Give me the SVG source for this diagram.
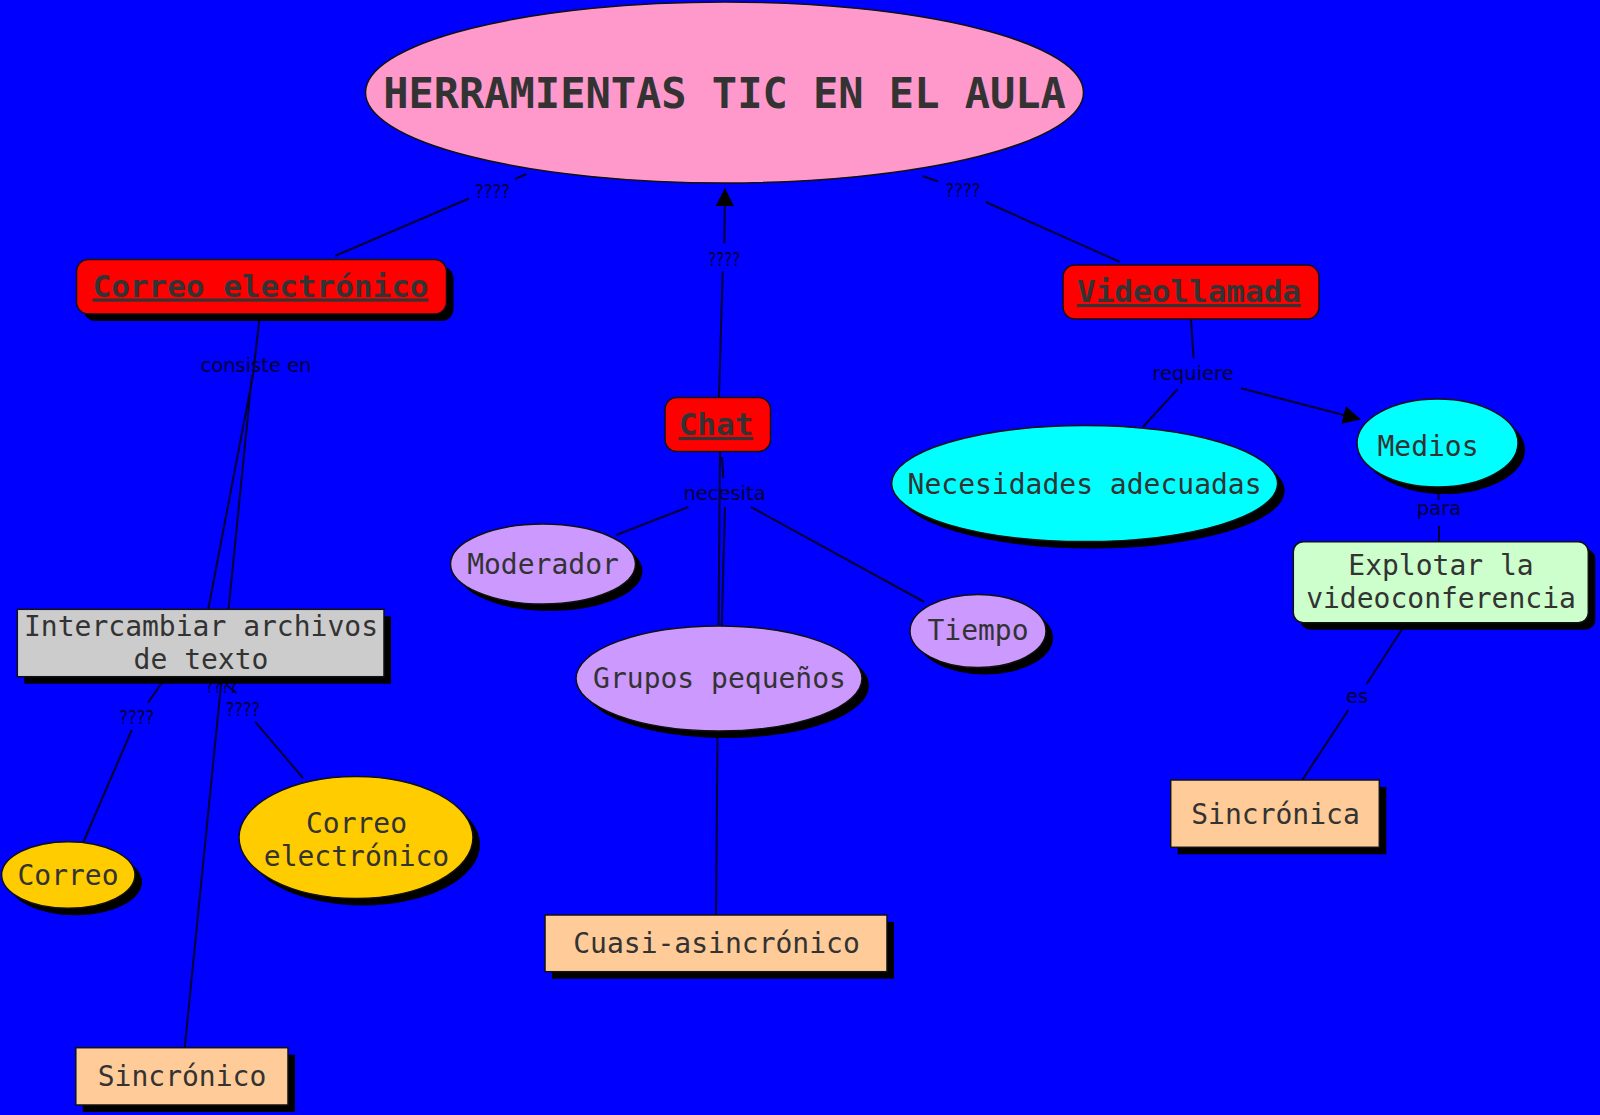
<svg xmlns="http://www.w3.org/2000/svg" width="1600" height="1115" viewBox="0 0 1600 1115">
<defs>
<style>
.bg{fill:#0000ff}
.ln{stroke:#000033;stroke-width:2;fill:none}
.lbl{font-family:"DejaVu Sans",sans-serif;font-size:19.5px;fill:#000033;text-anchor:middle}
.q{font-family:"DejaVu Sans",sans-serif;font-size:20px;fill:#000033;text-anchor:middle}
.sh{fill:#000000}
.bd{stroke:#111;stroke-width:1.5}
.t{font-family:"DejaVu Sans Mono",monospace;font-size:28px;fill:#333333;text-anchor:middle}
.tb{font-family:"DejaVu Sans Mono",monospace;font-size:31px;font-weight:bold;fill:#333333;text-anchor:middle;text-decoration:underline}
.red{fill:#ff0000}
.cy{fill:#00ffff}
.ye{fill:#ffcc00}
.gr{fill:#cccccc}
.pe{fill:#ffcc99}
.pu{fill:#cc99ff}
.gn{fill:#ccffcc}
</style>
<marker id="arr" markerUnits="userSpaceOnUse" markerWidth="18" markerHeight="18" refX="17" refY="9" orient="auto" viewBox="0 0 18 18">
<path d="M0,0 L18,9 L0,18 z" fill="#000000"/>
</marker>
</defs>
<rect class="bg" x="0" y="0" width="1600" height="1115"/>

<g id="connectors">
<line class="ln" x1="526.5" y1="174" x2="515" y2="179"/>
<text class="q" x="492.5" y="198" textLength="35" lengthAdjust="spacingAndGlyphs">????</text>
<line class="ln" x1="469" y1="198.5" x2="335" y2="256"/>

<line class="ln" x1="922.5" y1="176" x2="938" y2="181.5"/>
<text class="q" x="963" y="197" textLength="35" lengthAdjust="spacingAndGlyphs">????</text>
<line class="ln" x1="985.7" y1="202" x2="1120" y2="262"/>

<line class="ln" x1="719" y1="397" x2="722.7" y2="271.5"/>
<text class="q" x="724.2" y="266" textLength="32" lengthAdjust="spacingAndGlyphs">????</text>
<line class="ln" x1="724.3" y1="243.3" x2="725" y2="189" marker-end="url(#arr)"/>

<line class="ln" x1="260" y1="314" x2="253" y2="375"/>
<line class="ln" x1="253" y1="375" x2="208.3" y2="609"/>
<line class="ln" x1="252" y1="375" x2="184.7" y2="1048"/>
<text class="lbl" x="256" y="371.5">consiste en</text>

<text class="q" x="221.5" y="693" textLength="32" lengthAdjust="spacingAndGlyphs">????</text>
<line class="ln" x1="166.7" y1="676" x2="148" y2="702.7"/>
<text class="q" x="136.7" y="724" textLength="35" lengthAdjust="spacingAndGlyphs">????</text>
<line class="ln" x1="131.7" y1="730" x2="83" y2="843"/>

<line class="ln" x1="226.5" y1="685" x2="236.5" y2="693"/>
<text class="q" x="243" y="716" textLength="34" lengthAdjust="spacingAndGlyphs">????</text>
<line class="ln" x1="255" y1="721.7" x2="303" y2="778"/>

<line class="ln" x1="720" y1="452" x2="716" y2="915"/>
<line class="ln" x1="722" y1="457" x2="723.3" y2="478"/>
<text class="lbl" x="724.5" y="500">necesita</text>
<line class="ln" x1="688.3" y1="507" x2="616.3" y2="535"/>
<line class="ln" x1="725" y1="507" x2="721.7" y2="626"/>
<line class="ln" x1="751" y1="507" x2="924.3" y2="602"/>

<line class="ln" x1="1191" y1="319" x2="1193.6" y2="358.3"/>
<text class="lbl" x="1193" y="380">requiere</text>
<line class="ln" x1="1177.5" y1="389.3" x2="1142.9" y2="427"/>
<line class="ln" x1="1241" y1="388.3" x2="1360" y2="419.3" marker-end="url(#arr)"/>

<line class="ln" x1="1438.5" y1="490" x2="1438.5" y2="500"/>
<text class="lbl" x="1439" y="515">para</text>
<line class="ln" x1="1439" y1="526" x2="1439" y2="542"/>

<line class="ln" x1="1406" y1="623" x2="1366.7" y2="684"/>
<text class="lbl" x="1357" y="703">es</text>
<line class="ln" x1="1348.3" y1="710" x2="1301.7" y2="781"/>
</g>

<g id="node-main">
<ellipse cx="724.5" cy="92.5" rx="359" ry="90.5" fill="#ff99cc" class="bd"/>
<text x="724.5" y="108" font-family="DejaVu Sans Mono, monospace" font-size="42" font-weight="bold" fill="#333333" text-anchor="middle">HERRAMIENTAS TIC EN EL AULA</text>
</g>

<g id="node-correo-electronico">
<rect class="sh" x="83.5" y="266.5" width="370" height="54.5" rx="12"/>
<rect class="red bd" x="76.5" y="259.5" width="370" height="54.5" rx="12"/>
<text class="tb" x="260.5" y="296.5">Correo electrónico</text>
</g>

<g id="node-chat">
<rect class="red bd" x="665" y="397.5" width="105.5" height="54" rx="12"/>
<text class="tb" x="716" y="435">Chat</text>
</g>

<g id="node-videollamada">
<rect class="red bd" x="1063" y="265" width="256" height="54" rx="12"/>
<text class="tb" x="1189" y="302">Videollamada</text>
</g>

<g id="node-intercambiar">
<rect class="sh" x="24.3" y="616.3" width="366.7" height="67.4"/>
<rect class="gr bd" x="17.3" y="609.3" width="366.7" height="67.4"/>
<text class="t" x="201" y="636">Intercambiar archivos</text>
<text class="t" x="201" y="669">de texto</text>
</g>

<g id="node-correo">
<ellipse class="sh" cx="75.3" cy="882" rx="66.7" ry="33.3"/>
<ellipse class="ye bd" cx="68.3" cy="875" rx="66.7" ry="33.3"/>
<text class="t" x="68" y="885">Correo</text>
</g>

<g id="node-correo-electronico-2">
<ellipse class="sh" cx="363" cy="844.5" rx="117" ry="61"/>
<ellipse class="ye bd" cx="356" cy="837.5" rx="117" ry="61"/>
<text class="t" x="356.5" y="832.5">Correo</text>
<text class="t" x="356.5" y="865.5">electrónico</text>
</g>

<g id="node-sincronico">
<rect class="sh" x="82.8" y="1054.7" width="212.2" height="57.3"/>
<rect class="pe bd" x="75.8" y="1047.7" width="212.2" height="57.3"/>
<text class="t" x="182" y="1086">Sincrónico</text>
</g>

<g id="node-moderador">
<ellipse class="sh" cx="550" cy="571" rx="92.5" ry="40"/>
<ellipse class="pu bd" cx="543" cy="564" rx="92.5" ry="40"/>
<text class="t" x="543" y="574">Moderador</text>
</g>

<g id="node-grupos">
<ellipse class="sh" cx="726" cy="685.5" rx="143" ry="52.5"/>
<ellipse class="pu bd" cx="719" cy="678.5" rx="143" ry="52.5"/>
<text class="t" x="719.5" y="688">Grupos pequeños</text>
</g>

<g id="node-tiempo">
<ellipse class="sh" cx="985" cy="638" rx="68" ry="36.5"/>
<ellipse class="pu bd" cx="978" cy="631" rx="68" ry="36.5"/>
<text class="t" x="978" y="640">Tiempo</text>
</g>

<g id="node-cuasi">
<rect class="sh" x="552" y="922" width="342" height="56.7"/>
<rect class="pe bd" x="545" y="915" width="342" height="56.7"/>
<text class="t" x="716.5" y="953">Cuasi-asincrónico</text>
</g>

<g id="node-necesidades">
<ellipse class="sh" cx="1091.6" cy="490.6" rx="193" ry="58"/>
<ellipse class="cy bd" cx="1084.6" cy="483.6" rx="193" ry="58"/>
<text class="t" x="1084.6" y="494">Necesidades adecuadas</text>
</g>

<g id="node-medios">
<ellipse class="sh" cx="1444.5" cy="450" rx="80.5" ry="44"/>
<ellipse class="cy bd" cx="1437.5" cy="443" rx="80.5" ry="44"/>
<text class="t" x="1428" y="456">Medios</text>
</g>

<g id="node-explotar">
<rect class="sh" x="1300.3" y="548.7" width="295" height="81" rx="10"/>
<rect class="gn bd" x="1293.3" y="541.7" width="295" height="81" rx="10"/>
<text class="t" x="1441" y="575">Explotar la</text>
<text class="t" x="1441" y="608">videoconferencia</text>
</g>

<g id="node-sincronica">
<rect class="sh" x="1177.7" y="787" width="208.6" height="67.3"/>
<rect class="pe bd" x="1170.7" y="780" width="208.6" height="67.3"/>
<text class="t" x="1275.5" y="824">Sincrónica</text>
</g>
</svg>
